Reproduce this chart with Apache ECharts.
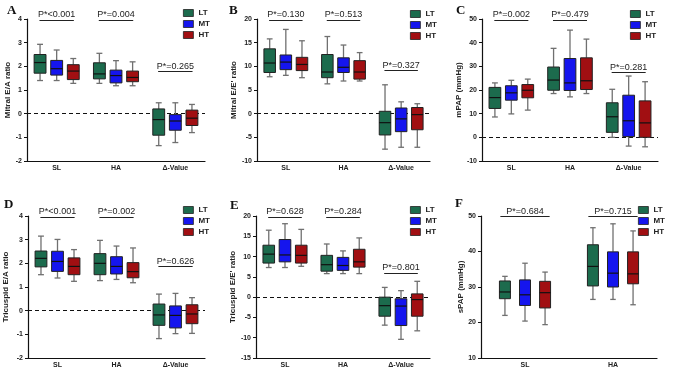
<!DOCTYPE html>
<html>
<head>
<meta charset="utf-8">
<script src="https://cdn.jsdelivr.net/npm/echarts@6/dist/echarts.min.js"></script>
<style>
  html, body { margin: 0; padding: 0; background: #fff; }
  #chart { width: 676px; height: 370px; }
</style>
</head>
<body>
<div id="chart"></div>
<script>
// groups and categories
const groups = ["LT", "MT", "HT"];
const cats3 = ["SL", "HA", "Δ-Value"];
const cats2 = ["SL", "HA"];

// each box: [min, Q1, median, Q3, max]
// A - Mitral E/A ratio
const aLT = [[1.40, 1.71, 2.16, 2.50, 2.93], [1.28, 1.47, 1.68, 2.15, 2.55], [-1.35, -0.91, -0.25, 0.20, 0.46]];
const aMT = [[1.40, 1.63, 1.90, 2.25, 2.69], [1.18, 1.30, 1.61, 1.84, 2.24], [-1.22, -0.70, -0.31, -0.04, 0.46]];
const aHT = [[1.28, 1.44, 1.80, 2.07, 2.33], [1.18, 1.35, 1.53, 1.80, 2.19], [-0.80, -0.50, -0.19, 0.15, 0.39]];
// B - Mitral E/E' ratio
const bLT = [[7.8, 8.7, 10.7, 13.7, 15.8], [6.3, 7.6, 8.8, 12.5, 16.3], [-7.5, -4.5, -1.9, 0.5, 6.1]];
const bMT = [[8.1, 9.3, 10.9, 12.4, 17.8], [6.9, 8.7, 9.8, 11.8, 14.5], [-7.1, -3.8, -1.1, 1.2, 2.5]];
const bHT = [[7.6, 9.1, 10.4, 11.9, 15.4], [6.9, 7.3, 8.8, 11.2, 12.9], [-7.1, -3.4, -0.2, 1.3, 2.1]];
// C - mPAP
const cLT = [[8.6, 12.2, 16.8, 21.1, 23.0], [18.5, 19.9, 24.2, 29.7, 37.6], [0.0, 2.1, 8.7, 14.6, 20.3]];
const cMT = [[9.9, 15.7, 18.8, 21.8, 24.1], [17.1, 19.8, 23.0, 33.3, 45.3], [-3.7, 0.3, 7.0, 17.8, 25.9]];
const cHT = [[11.5, 16.7, 19.9, 22.3, 24.6], [18.5, 20.2, 23.9, 33.6, 41.5], [-4.0, 0.0, 6.1, 15.4, 23.5]];
// D - Tricuspid E/A ratio
const dLT = [[1.52, 1.85, 2.21, 2.52, 3.15], [1.27, 1.52, 2.00, 2.41, 2.97], [-1.18, -0.62, -0.18, 0.28, 0.70]];
const dMT = [[1.38, 1.66, 2.08, 2.51, 3.01], [1.32, 1.55, 1.87, 2.28, 2.73], [-0.97, -0.73, -0.20, 0.20, 0.73]];
const dHT = [[1.24, 1.52, 1.87, 2.23, 2.58], [1.18, 1.39, 1.65, 2.03, 2.65], [-0.96, -0.55, -0.14, 0.25, 0.55]];
// E - Tricuspid E/E' ratio
const eLT = [[7.3, 8.4, 10.6, 12.8, 16.5], [5.8, 6.4, 8.0, 10.3, 13.1], [-6.9, -4.7, -2.1, 0.0, 2.4]];
const eMT = [[7.3, 8.7, 10.4, 14.2, 18.1], [5.8, 6.6, 7.8, 9.8, 11.4], [-10.4, -7.0, -2.2, -0.4, 1.6]];
const eHT = [[7.6, 8.4, 10.3, 12.8, 16.7], [5.8, 7.4, 8.7, 11.8, 14.6], [-8.3, -4.7, -0.6, 0.8, 3.9]];
// F - sPAP
const fLT = [[22.0, 26.7, 28.6, 31.7, 33.0], [26.5, 30.3, 35.8, 41.9, 46.7]];
const fMT = [[20.4, 24.8, 27.8, 32.0, 36.7], [26.5, 30.0, 33.9, 39.9, 47.8]];
const fHT = [[19.4, 24.1, 28.4, 31.6, 34.2], [25.0, 30.9, 33.7, 39.9, 45.8]];

// p-value labels and the y level of their bars
const aP = ["P*<0.001", "P*=0.004", "P*=0.265"], aPy = [3.96, 3.96, 1.78];
const bP = ["P*=0.130", "P*=0.513", "P*=0.327"], bPy = [19.8, 19.8, 9.1];
const cP = ["P*=0.002", "P*=0.479", "P*=0.281"], cPy = [49.6, 49.6, 27.3];
const dP = ["P*<0.001", "P*=0.002", "P*=0.626"], dPy = [3.95, 3.95, 1.86];
const eP = ["P*=0.628", "P*=0.284", "P*=0.801"], ePy = [19.7, 19.7, 5.9];
const fP = ["P*=0.684", "P*=0.715"], fPy = [49.8, 49.8];

// y axis ranges [min, max, interval]
const aRange = [-2, 4, 1], bRange = [-10, 20, 5], cRange = [-10, 50, 10];
const dRange = [-2, 4, 1], eRange = [-15, 20, 5], fRange = [10, 50, 10];

const colors = ["#1c6b4d", "#1515ee", "#a10f12"];
const font = "Liberation Sans";

const panels = [
  { letter: "A", name: "Mitral E/A ratio", cats: cats3, data: [aLT, aMT, aHT], p: aP, py: aPy, range: aRange,
    grid: { left: 27, top: 19, width: 178, height: 142 }, gap: 12, legend: [183, 9], lt: [7, 4], off: 0.28, bw: 0.2, half: 0.29, zero: true },
  { letter: "B", name: "Mitral E/E' ratio", cats: cats3, data: [bLT, bMT, bHT], p: bP, py: bPy, range: bRange,
    grid: { left: 257, top: 19, width: 173, height: 142 }, gap: 18, legend: [410, 10], lt: [229, 4], off: 0.28, bw: 0.2, half: 0.29, zero: true },
  { letter: "C", name: "mPAP (mmHg)", cats: cats3, data: [cLT, cMT, cHT], p: cP, py: cPy, range: cRange,
    grid: { left: 482, top: 19, width: 176, height: 142 }, gap: 18, legend: [630, 10], lt: [456, 4], off: 0.28, bw: 0.2, half: 0.29, zero: true },
  { letter: "D", name: "Tricuspid E/A ratio", cats: cats3, data: [dLT, dMT, dHT], p: dP, py: dPy, range: dRange,
    grid: { left: 28, top: 216, width: 177, height: 142 }, gap: 18, legend: [183, 206], lt: [4, 198], off: 0.28, bw: 0.2, half: 0.29, zero: true },
  { letter: "E", name: "Tricuspid E/E' ratio", cats: cats3, data: [eLT, eMT, eHT], p: eP, py: ePy, range: eRange,
    grid: { left: 256, top: 216, width: 174, height: 142 }, gap: 19, legend: [410, 206], lt: [230, 199], off: 0.28, bw: 0.2, half: 0.29, zero: true },
  { letter: "F", name: "sPAP (mmHg)", cats: cats2, data: [fLT, fMT, fHT], p: fP, py: fPy, range: fRange,
    grid: { left: 481, top: 216, width: 176, height: 142 }, gap: 14, legend: [638, 206], lt: [455, 197], off: 0.228, bw: 0.125, half: 0.28, zero: false }
];

// draws one box with whiskers, offset inside its category band
function boxRender(off, bw) {
  return function (params, api) {
    const c = api.value(0);
    const band = api.size([1, 0])[0];
    const cx = api.coord([c, 0])[0] + off * band;
    const w = bw * band;
    const y = [1, 2, 3, 4, 5].map(i => api.coord([c, api.value(i)])[1]);
    const grey = { stroke: "#707070", lineWidth: 1.3 };
    return {
      type: "group",
      children: [
        { type: "line", shape: { x1: cx, y1: y[4], x2: cx, y2: y[3] }, style: grey },
        { type: "line", shape: { x1: cx, y1: y[1], x2: cx, y2: y[0] }, style: grey },
        { type: "line", shape: { x1: cx - w / 4, y1: y[4], x2: cx + w / 4, y2: y[4] }, style: grey },
        { type: "line", shape: { x1: cx - w / 4, y1: y[0], x2: cx + w / 4, y2: y[0] }, style: grey },
        { type: "rect", shape: { x: cx - w / 2, y: y[3], width: w, height: y[1] - y[3] },
          style: { fill: api.visual("color"), stroke: "#222", lineWidth: 1 } },
        { type: "line", shape: { x1: cx - w / 2, y1: y[2], x2: cx + w / 2, y2: y[2] }, style: { stroke: "#111", lineWidth: 1.2 } }
      ]
    };
  };
}

const option = {
  animation: false,
  color: colors,
  textStyle: { fontFamily: font },
  grid: [], xAxis: [], yAxis: [], legend: [], series: [], graphic: []
};

panels.forEach((p, k) => {
  option.grid.push(p.grid);
  option.xAxis.push({
    type: "category", gridIndex: k, data: p.cats, position: "bottom",
    axisLine: { onZero: false, lineStyle: { color: "#111", width: 1.2 } },
    axisTick: { alignWithLabel: true, length: 3, lineStyle: { color: "#111" } },
    axisLabel: { fontSize: 7, fontWeight: "bold", color: "#222", margin: 4, fontFamily: font }
  });
  // hidden value axis for the p-value bars
  option.xAxis.push({ type: "value", gridIndex: k, min: -0.5, max: p.cats.length - 0.5, show: false,
    axisLine: { onZero: false } });
  option.yAxis.push({
    type: "value", gridIndex: k, min: p.range[0], max: p.range[1], interval: p.range[2], position: "left",
    name: p.name, nameLocation: "middle", nameGap: p.gap,
    nameTextStyle: { fontSize: 8, fontWeight: "bold", color: "#222", fontFamily: font },
    splitLine: { show: false },
    axisLine: { show: true, onZero: false, lineStyle: { color: "#111", width: 1.2 } },
    axisTick: { show: true, length: 3, lineStyle: { color: "#111" } },
    axisLabel: { fontSize: 7, fontWeight: "bold", color: "#222", margin: 5, fontFamily: font }
  });
  option.legend.push({
    data: groups, orient: "vertical", left: p.legend[0], top: p.legend[1], padding: 0,
    itemWidth: 10, itemHeight: 7, itemGap: 3,
    itemStyle: { borderColor: "#222", borderWidth: 0.8 },
    icon: "rect",
    textStyle: { fontSize: 8, fontWeight: "bold", color: "#222", fontFamily: font, padding: [0, 0, 0, 0] }
  });
  groups.forEach((g, j) => {
    option.series.push({
      type: "custom", name: g, xAxisIndex: 2 * k, yAxisIndex: k, z: 10,
      renderItem: boxRender((j - 1) * p.off, p.bw),
      encode: { x: 0, y: [1, 2, 3, 4, 5] },
      data: p.data[j].map((d, i) => [i].concat(d))
    });
  });
  const marks = p.p.map((t, i) => [
    { name: t, coord: [i - p.half, p.py[i]] },
    { coord: [i + p.half, p.py[i]] }
  ]);
  if (p.zero) {
    marks.push({ yAxis: 0, label: { show: false }, lineStyle: { type: [4, 3], color: "#111", width: 1.2 } });
  }
  option.series.push({
    type: "line", xAxisIndex: 2 * k + 1, yAxisIndex: k, data: [], silent: true, clip: false, z: 1,
    markLine: {
      silent: true, symbol: "none", z: 1,
      label: { position: "middle", formatter: "{b}", fontSize: 9, color: "#222", distance: 1, fontFamily: font },
      lineStyle: { color: "#222", width: 1, type: "solid" },
      data: marks
    }
  });
  option.graphic.push({
    type: "text", left: p.lt[0], top: p.lt[1],
    style: { text: p.letter, font: "bold 13px 'Liberation Serif'", fill: "#111" }
  });
});

const chart = echarts.init(document.getElementById("chart"));
chart.setOption(option);
</script>
</body>
</html>
